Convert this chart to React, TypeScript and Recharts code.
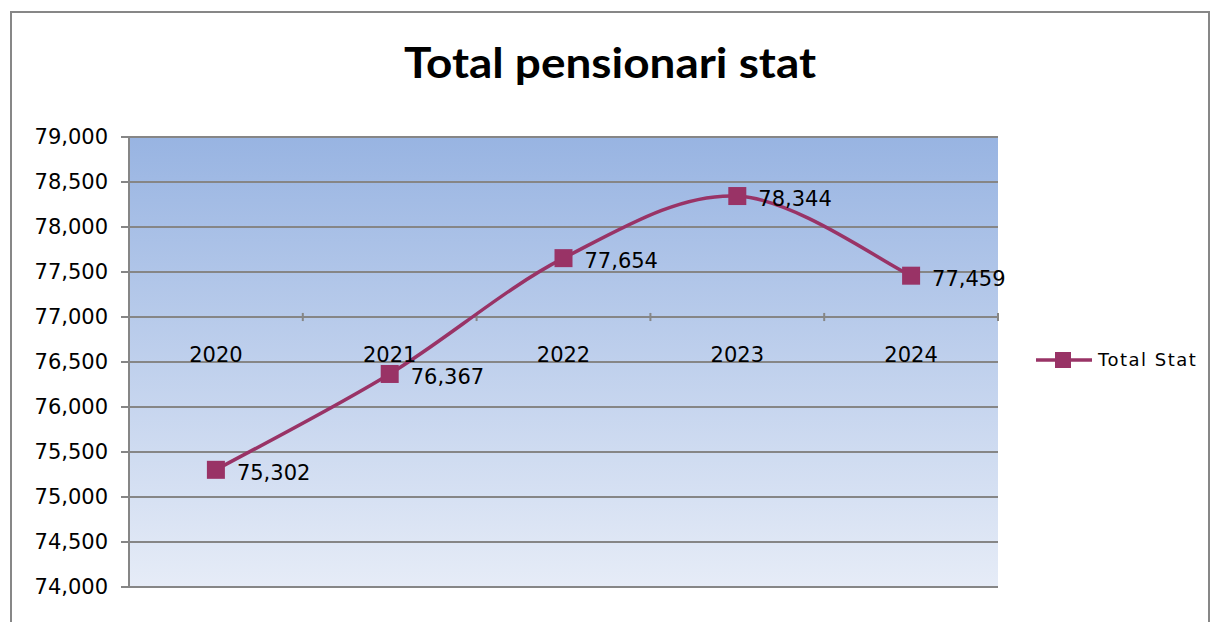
import React from "react";
import { LineChart, Line, XAxis, YAxis, CartesianGrid, ReferenceLine, ReferenceDot, LabelList } from "recharts";

const years = ["2020", "2021", "2022", "2023", "2024"];
const totalStat = [75302, 76367, 77654, 78344, 77459];
const yTicks = [74000, 74500, 75000, 75500, 76000, 76500, 77000, 77500, 78000, 78500, 79000];
const boundaries = [0.5, 1.5, 2.5, 3.5, 4.5];

const data = years.map((year, i) => ({ x: i, year, value: totalStat[i] }));

const LINE = "#993366";
const GRID = "#868686";
const FONT = "'DejaVu Sans', sans-serif";

// Excel-style smoothed line (Catmull-Rom through the points)
const excelCurve = (context: any) => {
  let pts: number[][] = [];
  return {
    areaStart() {},
    areaEnd() {},
    lineStart() {
      pts = [];
    },
    point(x: number, y: number) {
      pts.push([+x, +y]);
    },
    lineEnd() {
      if (!pts.length) return;
      context.moveTo(pts[0][0], pts[0][1]);
      for (let i = 0; i < pts.length - 1; i++) {
        const p0 = pts[i - 1] || pts[i];
        const p1 = pts[i];
        const p2 = pts[i + 1];
        const p3 = pts[i + 2] || pts[i + 1];
        context.bezierCurveTo(
          p1[0] + (p2[0] - p0[0]) / 6,
          p1[1] + (p2[1] - p0[1]) / 6,
          p2[0] - (p3[0] - p1[0]) / 6,
          p2[1] - (p3[1] - p1[1]) / 6,
          p2[0],
          p2[1]
        );
      }
    },
  };
};

const SquareDot = (props: any) => {
  const { cx, cy } = props;
  if (cx == null || cy == null) return null;
  return <rect x={cx - 9} y={cy - 9} width={18} height={18} fill={LINE} />;
};

const ValueLabel = (props: any) => {
  const { x, y, value } = props;
  return (
    <text x={x + 21} y={y + 10} fontSize={21} fontFamily={FONT} fill="#000">
      {Number(value).toLocaleString("en-US")}
    </text>
  );
};

export default function App() {
  return (
    <div style={{ position: "absolute", left: 0, top: 0, width: 1212, height: 622, overflow: "hidden", background: "#fff" }}>
      <div
        style={{
          position: "absolute",
          left: 10,
          top: 11,
          width: 1200,
          height: 700,
          border: "2px solid #878787",
          boxSizing: "border-box",
        }}
      >
        <svg width={1196} height={90} style={{ position: "absolute", left: 0, top: 0 }}>
          <text
            x={598}
            y={65}
            textAnchor="middle"
            fontFamily="Lato, 'Open Sans', sans-serif"
            fontWeight={700}
            fontSize={42}
            textLength={412}
            lengthAdjust="spacingAndGlyphs"
            fill="#000"
          >
            Total pensionari stat
          </text>
        </svg>
        <div style={{ position: "absolute", left: 0, top: 0 }}>
          <LineChart width={1194} height={656} data={data} margin={{ top: 124, right: 208, bottom: 82, left: 0 }}>
            <defs>
              <linearGradient id="plotBg" x1="0" y1="0" x2="0" y2="1">
                <stop offset="0%" stopColor="#98b4e2" />
                <stop offset="100%" stopColor="#e6ecf7" />
              </linearGradient>
            </defs>
            <CartesianGrid vertical={false} stroke={GRID} strokeWidth={2} fill="url(#plotBg)" fillOpacity={1} />
            <XAxis dataKey="x" type="number" domain={[-0.5, 4.5]} hide />
            <YAxis
              domain={[74000, 79000]}
              ticks={yTicks}
              interval={0}
              axisLine={{ stroke: GRID, strokeWidth: 2 }}
              tickLine={{ stroke: GRID, strokeWidth: 2 }}
              tickSize={8}
              tickMargin={13}
              tick={{ fontSize: 21, fontFamily: FONT, fill: "#000" }}
              tickFormatter={(v: number) => v.toLocaleString("en-US")}
              width={117}
            />
            <ReferenceLine y={77000} stroke={GRID} strokeWidth={2} />
            {boundaries.map((b) => (
              <ReferenceLine
                key={b}
                segment={[{ x: b, y: 77045 }, { x: b, y: 76955 }]}
                stroke={GRID}
                strokeWidth={2}
              />
            ))}
            {years.map((year, i) => (
              <ReferenceDot
                key={year}
                x={i}
                y={76580}
                r={0}
                fill="none"
                stroke="none"
                label={{ value: year, position: "center", fontSize: 21, fontFamily: FONT, fill: "#000" }}
              />
            ))}
            <Line
              type={excelCurve as any}
              dataKey="value"
              name="Total Stat"
              stroke={LINE}
              strokeWidth={3.5}
              dot={<SquareDot />}
              activeDot={false}
              isAnimationActive={false}
            >
              <LabelList dataKey="value" content={<ValueLabel />} />
            </Line>
          </LineChart>
        </div>
        <div style={{ position: "absolute", left: 1024, top: 337, display: "flex", alignItems: "center" }}>
          <svg width={58} height={20}>
            <line x1={0} y1={10} x2={56} y2={10} stroke={LINE} strokeWidth={3.5} />
            <rect x={19} y={2} width={16} height={16} fill={LINE} />
          </svg>
          <span style={{ fontFamily: FONT, fontSize: 18, letterSpacing: 1.5, marginLeft: 4, color: "#000", lineHeight: "20px" }}>
            Total Stat
          </span>
        </div>
      </div>
    </div>
  );
}
